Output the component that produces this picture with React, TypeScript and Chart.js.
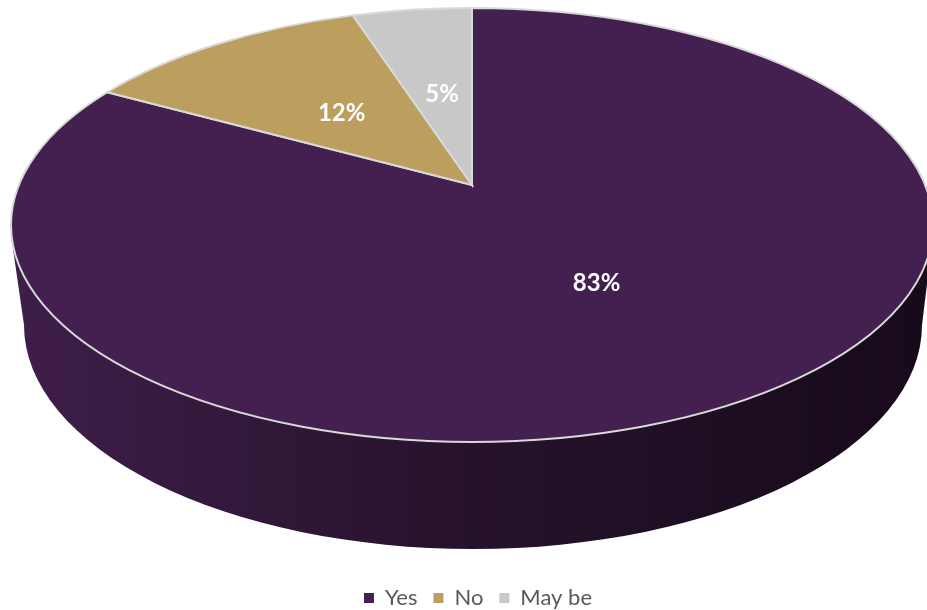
import React, { useEffect, useRef } from "react";
import { Chart, registerables } from "chart.js";

Chart.register(...registerables);

const categories = ["Yes", "No", "May be"];
const shares = [83, 12, 5];
const sliceColors = ["#43204f", "#bc9f5e", "#c8c8c8"];

// Geometry of the tilted disc on the canvas.
const CX = 472;
const CY = 225;
const RX = 461;
const RY = 217;
const APEX_LIFT = 40; // how far the pie's centre sits above the ellipse's centre
const BASE_CX = 473;
const BASE_CY = 325;
const BASE_RX = 449;
const BASE_RY = 224;
const LABEL_RADIUS = 0.49;
const LABEL_DROP = 2;

const tilt = APEX_LIFT / RY;
const spreadX = RX * Math.sqrt(1 - tilt * tilt);

// Perspective projection of a point on the flat pie (radius 0..1, canvas angle) onto the disc.
function project(angle: number, r: number) {
  const u = Math.cos(angle) * r;
  const v = -Math.sin(angle) * r;
  const den = 1 + tilt * v;
  return {
    x: CX + (spreadX * u) / den,
    y: CY - (RY * v + APEX_LIFT) / den,
  };
}

function rimParam(angle: number) {
  const p = project(angle, 1);
  return Math.atan2((p.y - CY) / RY, (p.x - CX) / RX);
}

const disc3d = {
  id: "disc3d",
  beforeDatasetsDraw(chart: any) {
    const { ctx } = chart;
    const arcs = chart.getDatasetMeta(0).data;
    ctx.save();

    // Side wall: hull of the top ellipse and the smaller base ellipse.
    const wall = ctx.createLinearGradient(12, 0, 927, 0);
    wall.addColorStop(0, "#3f1e4a");
    wall.addColorStop(0.25, "#32183a");
    wall.addColorStop(0.5, "#26122c");
    wall.addColorStop(0.75, "#1e0e23");
    wall.addColorStop(1, "#170a1b");
    ctx.fillStyle = wall;
    ctx.beginPath();
    ctx.moveTo(CX - RX, CY + 10);
    ctx.lineTo(BASE_CX - BASE_RX, BASE_CY);
    ctx.ellipse(BASE_CX, BASE_CY, BASE_RX, BASE_RY, 0, Math.PI, 0, true);
    ctx.lineTo(CX + RX, CY + 10);
    ctx.closePath();
    ctx.fill();

    // Top face, one slice per arc element.
    const apex = project(0, 0);
    arcs.forEach((arc: any, i: number) => {
      const { startAngle, endAngle } = arc.getProps(["startAngle", "endAngle"]);
      ctx.beginPath();
      ctx.moveTo(apex.x, apex.y);
      ctx.ellipse(CX, CY, RX, RY, 0, rimParam(startAngle), rimParam(endAngle));
      ctx.closePath();
      ctx.fillStyle = sliceColors[i];
      ctx.fill();
      ctx.lineWidth = 2;
      ctx.strokeStyle = "#d9d9d9";
      ctx.stroke();
    });

    // Percentage labels sit on each slice's middle angle.
    ctx.fillStyle = "#ffffff";
    ctx.font = "bold 24px Lato";
    ctx.textAlign = "center";
    ctx.textBaseline = "middle";
    arcs.forEach((arc: any, i: number) => {
      const { startAngle, endAngle } = arc.getProps(["startAngle", "endAngle"]);
      const p = project((startAngle + endAngle) / 2, LABEL_RADIUS);
      ctx.fillText(`${shares[i]}%`, p.x + 2, p.y + LABEL_DROP);
    });

    ctx.restore();
    return false;
  },
};

export default function App() {
  const canvasRef = useRef<HTMLCanvasElement | null>(null);

  useEffect(() => {
    document.body.style.margin = "0";
    const chart = new Chart(canvasRef.current!, {
      type: "pie",
      data: {
        labels: categories,
        datasets: [{ data: shares, backgroundColor: sliceColors, borderWidth: 0 }],
      },
      options: {
        animation: false,
        responsive: false,
        layout: { padding: { left: 29, bottom: -9 } },
        plugins: {
          tooltip: { enabled: false },
          legend: {
            position: "bottom",
            labels: {
              boxWidth: 10,
              boxHeight: 10,
              padding: 16,
              color: "#595959",
              font: { family: "Lato", size: 22 },
            },
          },
        },
      },
      plugins: [disc3d],
    } as any);
    return () => chart.destroy();
  }, []);

  return (
    <div style={{ width: 927, height: 610, overflow: "hidden" }}>
      <canvas ref={canvasRef} width={927} height={610} style={{ display: "block" }} />
    </div>
  );
}
